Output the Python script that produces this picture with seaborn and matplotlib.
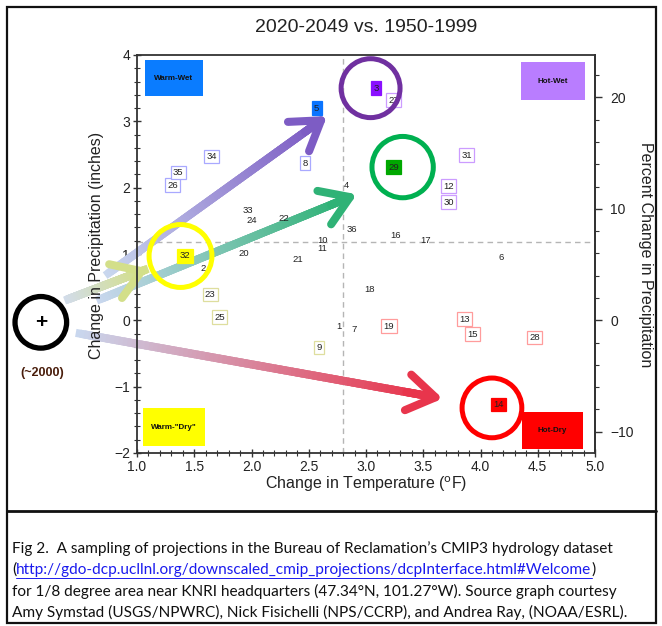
import numpy as np
import pandas as pd
import matplotlib
matplotlib.use("Agg")
import matplotlib.pyplot as plt
import seaborn as sns
from matplotlib.collections import LineCollection
from matplotlib.colors import LinearSegmentedColormap
from matplotlib.patches import Rectangle
from matplotlib.lines import Line2D
from matplotlib.ticker import MultipleLocator

# model projections: number, change in temperature (F), change in precipitation (in), group
labels = ["1", "2", "3", "4", "5", "6", "7", "8", "9", "10", "11", "12",
          "13", "14", "15", "16", "17", "18", "19", "20", "21", "22", "23", "24",
          "25", "26", "27", "28", "29", "30", "31", "32", "33", "34", "35", "36"]
temp = [2.76, 1.58, 3.09, 2.83, 2.57, 4.18, 2.90, 2.47, 2.59, 2.62, 2.62, 3.72,
        3.86, 4.16, 3.93, 3.26, 3.52, 3.03, 3.20, 1.93, 2.40, 2.28, 1.64, 2.00,
        1.72, 1.31, 3.24, 4.47, 3.24, 3.72, 3.88, 1.42, 1.97, 1.65, 1.36, 2.88]
precip = [-0.09, 0.78, 3.50, 2.04, 3.20, 0.95, -0.14, 2.37, -0.41, 1.21, 1.08, 2.02,
          0.02, -1.27, -0.21, 1.28, 1.21, 0.47, -0.09, 1.01, 0.92, 1.54, 0.39, 1.51,
          0.05, 2.04, 3.32, -0.26, 2.31, 1.78, 2.49, 0.97, 1.66, 2.47, 2.23, 1.37]
group = ["plain", "plain", "hotwet_fill", "plain", "wet_fill", "plain", "plain", "wet",
         "dry", "plain", "plain", "hotwet", "hotdry", "hotdry_fill", "hotdry", "plain",
         "plain", "plain", "hotdry", "plain", "plain", "plain", "dry", "plain",
         "dry", "wet", "hotwet", "hotdry", "green_fill", "hotwet", "hotwet", "dry_fill",
         "plain", "wet", "wet", "plain"]

# medians of the projections (dashed lines)
median_temp = 2.80
median_precip = 1.18
base_precip = 16.8  # inches, for the percent axis

# highlighted scenarios (circles) and the "+" present-day point
circle_x = [3.04, 3.32, 1.38, 4.10]
circle_y = [3.50, 2.31, 0.97, -1.32]
circle_col = ["#7030a0", "#00b050", "#ffff00", "#ff0000"]
circle_size = [1800, 1950, 2050, 1850]
now_x, now_y = 0.16, -0.03

# arrows from present day to the highlighted scenarios
arrow_start = [(0.75, 0.71), (0.68, 0.32), (0.40, 0.32), (0.50, -0.20)]
arrow_end = [(2.66, 3.08), (2.92, 1.90), (1.10, 0.78), (3.67, -1.18)]
arrow_c0 = ["#c9d7ee", "#c9d7ee", "#d2dcea", "#c9d7ee"]
arrow_c1 = ["#7d5cc4", "#2fb276", "#d3df8a", "#e8354c"]

# quadrant labels
quad_text = ["Warm-Wet", "Hot-Wet", 'Warm-"Dry"', "Hot-Dry"]
quad_x = [(1.07, 1.576), (4.354, 4.913), (1.052, 1.594), (4.362, 4.895)]
quad_y = [(3.38, 3.92), (3.32, 3.89), (-1.90, -1.327), (-1.946, -1.388)]
quad_col = ["#0a7cff", "#b97dff", "#ffff00", "#ff0000"]

styles = {
    "plain": None,
    "wet": ("white", "#a9a9ff"),
    "hotwet": ("white", "#cc9cff"),
    "dry": ("white", "#dede9e"),
    "hotdry": ("white", "#ff9c9c"),
    "wet_fill": ("#0a74ff", "#0a74ff"),
    "hotwet_fill": ("#8a10ff", "#8a10ff"),
    "green_fill": ("#00a800", "#00a800"),
    "dry_fill": ("#ffff00", "#ffff00"),
    "hotdry_fill": ("#ff0000", "#ff0000"),
}

df = pd.DataFrame({"label": labels, "temp": temp, "precip": precip, "group": group})

sns.set_style("ticks")
plt.rcParams["font.family"] = ["Liberation Sans", "DejaVu Sans"]

W, H = 662, 626
fig = plt.figure(figsize=(W / 100, H / 100), dpi=100)


def fx(px):
    return px / W


def fy(py):
    return 1 - py / H


ax = fig.add_axes([fx(137), fy(453), fx(595 - 137), (453 - 55) / H])


def gradient_arrow(ax, start, end, c0, c1, lw=5.8):
    n = 80
    (x0, y0), (x1, y1) = start, end
    t = np.linspace(0, 0.95, n + 1)
    xs = x0 + (x1 - x0) * t
    ys = y0 + (y1 - y0) * t
    pts = np.column_stack([xs, ys])
    segs = np.stack([pts[:-1], pts[1:]], axis=1)
    cmap = LinearSegmentedColormap.from_list("grad", [c0, c1])
    lc = LineCollection(segs, colors=cmap(np.linspace(0, 1, n)), linewidths=lw,
                        capstyle="projecting", clip_on=False, zorder=2)
    ax.add_collection(lc)
    ax.annotate("", xy=end, xytext=(x0 + (x1 - x0) * 0.9, y0 + (y1 - y0) * 0.9),
                arrowprops=dict(arrowstyle="->,head_length=2.0,head_width=1.3",
                                color=c1, lw=lw, shrinkA=0, shrinkB=0),
                annotation_clip=False, zorder=2)


# dashed median lines
ax.axvline(median_temp, color="#b5b5b5", ls=(0, (4, 3)), lw=1.0, zorder=1)
ax.axhline(median_precip, color="#b5b5b5", ls=(0, (4, 3)), lw=1.0, zorder=1)

for s, e, c0, c1 in zip(arrow_start, arrow_end, arrow_c0, arrow_c1):
    gradient_arrow(ax, s, e, c0, c1)

# quadrant label boxes
for txt, (xa, xb), (ya, yb), col in zip(quad_text, quad_x, quad_y, quad_col):
    ax.add_patch(Rectangle((xa, ya), xb - xa, yb - ya, facecolor=col,
                           edgecolor="none", zorder=3))
    ax.text((xa + xb) / 2, (ya + yb) / 2, txt, ha="center", va="center",
            fontsize=5.8, fontweight="bold", color="#111111", zorder=4)

# numbered projections
for _, r in df.iterrows():
    st = styles[r["group"]]
    bbox = None
    if st is not None:
        bbox = dict(boxstyle="square,pad=0.25", facecolor=st[0], edgecolor=st[1], lw=0.9)
    ax.text(r["temp"], r["precip"], r["label"], ha="center", va="center",
            fontsize=6.8, color="#222222", bbox=bbox, zorder=4)

# highlight circles
for x, y, c, s in zip(circle_x, circle_y, circle_col, circle_size):
    sns.scatterplot(x=[x], y=[y], ax=ax, s=s, color=c, facecolor="none",
                    edgecolor=c, linewidth=3.6, zorder=5, clip_on=False)
sns.scatterplot(x=[now_x], y=[now_y], ax=ax, s=1380, color="black", facecolor="none",
                edgecolor="black", linewidth=3.8, zorder=5, clip_on=False)
ax.text(now_x, now_y, "+", ha="center", va="center", fontsize=15,
        fontweight="bold", color="black", zorder=6, clip_on=False)
fig.text(fx(42), fy(373), "(~2000)", ha="center", va="center", fontsize=9,
         fontweight="bold", color="#4a1e0c")

ax.set_xlim(1, 5)
ax.set_ylim(-2, 4)
ax.set_xlabel("")
ax.set_ylabel("")
ax.xaxis.set_major_locator(MultipleLocator(0.5))
ax.xaxis.set_minor_locator(MultipleLocator(0.1))
ax.yaxis.set_major_locator(MultipleLocator(1))
ax.yaxis.set_minor_locator(MultipleLocator(0.2))
ax.xaxis.set_major_formatter(matplotlib.ticker.FormatStrFormatter("%.1f"))
ax.tick_params(axis="both", which="major", direction="inout", length=6, width=1,
               labelsize=10, pad=2, colors="#333333", labelcolor="#222222")
ax.tick_params(axis="both", which="minor", direction="inout", length=4, width=0.8,
               colors="#333333")
ax.tick_params(axis="y", right=False)
for sp in ax.spines.values():
    sp.set_visible(True)
    sp.set_color("#333333")
    sp.set_linewidth(1.3)

sec = ax.secondary_yaxis("right", functions=(lambda v: v * 100 / base_precip,
                                             lambda p: p * base_precip / 100))
sec.yaxis.set_major_locator(MultipleLocator(10))
sec.yaxis.set_minor_locator(MultipleLocator(2))
sec.tick_params(which="major", direction="out", length=5, width=1, pad=6,
                labelsize=10, colors="#333333", labelcolor="#222222")
sec.tick_params(which="minor", direction="out", length=3, width=0.8, colors="#333333")
sec.spines["right"].set_color("#333333")
sec.spines["right"].set_linewidth(1.3)

# titles and axis labels
fig.text(fx(366), fy(27), "2020-2049 vs. 1950-1999", ha="center", va="center",
         fontsize=14, color="#222222")
fig.text(fx(366), fy(484), "Change in Temperature ($^{\\rm o}$F)", ha="center",
         va="center", fontsize=11.5, color="#222222")
fig.text(fx(96), fy(245), "Change in Precipitation (inches)", ha="center",
         va="center", rotation=90, fontsize=11.5, color="#222222")
fig.text(fx(645), fy(255), "Percent Change in Precipitation", ha="center",
         va="center", rotation=270, fontsize=11.5, color="#222222")

# frame and caption
fig.add_artist(Rectangle((fx(7), fy(623)), fx(656 - 7), (623 - 7) / H,
                         transform=fig.transFigure, fill=False, lw=1.6,
                         edgecolor="#111111"))
fig.add_artist(Line2D([fx(7), fx(656)], [fy(511), fy(511)],
                      transform=fig.transFigure, lw=2, color="#111111"))

cap_font = ["Lato", "DejaVu Sans"]
cap_size = 11.1
fig.text(fx(12), fy(549), "Fig 2.  A sampling of projections in the Bureau of "
         "Reclamation\u2019s CMIP3 hydrology dataset", fontsize=cap_size,
         family=cap_font, va="center", ha="left", color="#111111")
t_open = fig.text(fx(12), fy(570), "(", fontsize=cap_size, family=cap_font,
                  va="center", ha="left", color="#111111")
fig.canvas.draw()
rend = fig.canvas.get_renderer()
bb = t_open.get_window_extent(rend)
t_link = fig.text(bb.x1 / W, fy(570),
                  "http://gdo-dcp.ucllnl.org/downscaled_cmip_projections/"
                  "dcpInterface.html#Welcome", fontsize=cap_size, family=cap_font,
                  va="center", ha="left", color="#1a1aee")
bb2 = t_link.get_window_extent(rend)
fig.text(bb2.x1 / W, fy(570), ")", fontsize=cap_size, family=cap_font,
         va="center", ha="left", color="#111111")
fig.add_artist(Line2D([bb2.x0 / W, bb2.x1 / W], [fy(578), fy(578)],
                      transform=fig.transFigure, lw=0.7, color="#1a1aee"))
fig.text(fx(12), fy(591), "for 1/8 degree area near KNRI headquarters "
         "(47.34\u00b0N, 101.27\u00b0W). Source graph courtesy", fontsize=cap_size,
         family=cap_font, va="center", ha="left", color="#111111")
fig.text(fx(12), fy(612), "Amy Symstad (USGS/NPWRC), Nick Fisichelli (NPS/CCRP), "
         "and Andrea Ray, (NOAA/ESRL).", fontsize=cap_size, family=cap_font,
         va="center", ha="left", color="#111111")

fig.savefig("out.png", dpi=100)
